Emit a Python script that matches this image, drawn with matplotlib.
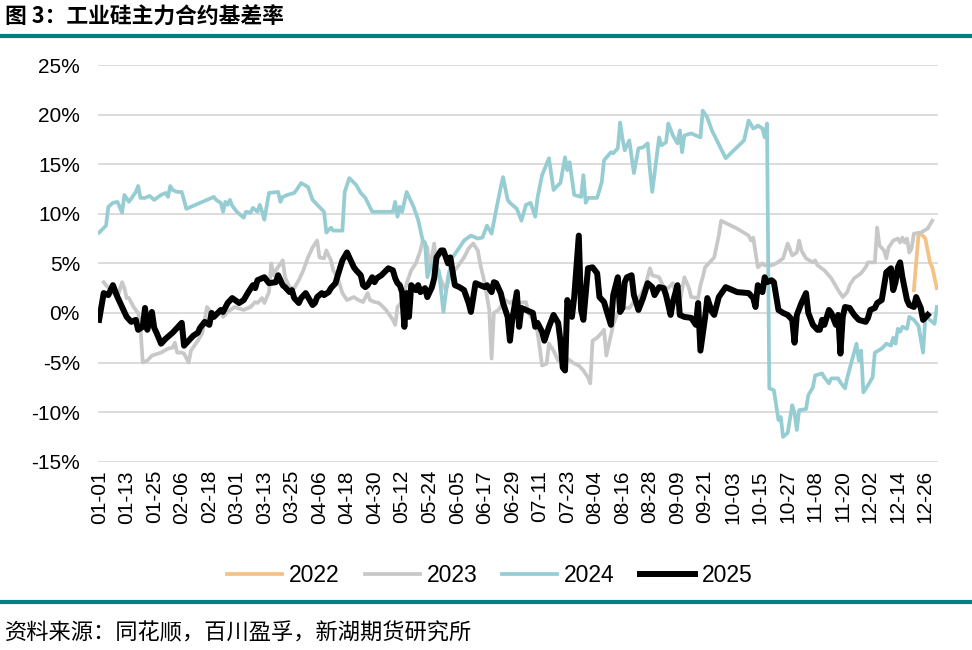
import numpy as np
import pandas as pd
import matplotlib

matplotlib.use("Agg")
import matplotlib.pyplot as plt
from matplotlib.lines import Line2D

plt.rcParams["font.family"] = ["Liberation Sans", "Noto Sans CJK SC", "DejaVu Sans"]

# category axis: month-day of a leap year
categories = list(pd.date_range("2024-01-01", "2024-12-31").strftime("%m-%d"))

# basis rate (%), x = day index on the category axis
days_2022 = [355, 357, 358, 360, 362, 363, 365]
basis_2022 = [2.3, 7.8, 8.0, 7.5, 5.1, 4.6, 2.5]

days_2023 = [2, 3, 5, 8, 10, 11, 12, 13, 15, 17, 18, 19, 21, 23, 27, 30, 32, 33, 34, 36,
             37, 39, 40, 43, 45, 46, 47, 48, 50, 53, 54, 56, 59, 63, 66, 68, 69, 71, 72, 74,
             75, 76, 77, 80, 81, 83, 85, 87, 89, 91, 93, 95, 96, 98, 99, 101, 102, 104, 106, 108,
             111, 113, 115, 117, 118, 120, 122, 125, 128, 129, 130, 132, 134, 136, 138, 140, 141, 143, 144, 146,
             147, 149, 151, 153, 156, 159, 161, 163, 165, 166, 168, 170, 171, 172, 174, 177, 179, 181, 183, 186,
             187, 190, 191, 193, 195, 196, 198, 200, 202, 204, 207, 209, 211, 213, 214, 215, 217, 219, 220, 221,
             224, 226, 228, 231, 233, 236, 238, 240, 241, 244, 246, 248, 250, 251, 253, 255, 257, 258, 261, 262,
             263, 264, 266, 268, 270, 271, 278, 283, 284, 285, 287, 289, 290, 293, 295, 298, 300, 302, 304, 305,
             306, 308, 311, 312, 313, 316, 319, 322, 324, 326, 327, 329, 332, 334, 335, 338, 339, 340, 342, 343,
             344, 346, 348, 349, 350, 351, 352, 353, 354, 355, 358, 361, 363]
basis_2023 = [3.1, 2.8, 2.3, 1.6, 3.1, 2.5, 1.5, 1.5, 0.6, 0.0, -1.4, -5.0, -4.8, -4.3, -4.0, -3.6, -3.5, -3.0, -4.0, -4.0,
              -4.1, -5.0, -3.8, -2.8, -2.0, -0.7, 0.6, 0.3, -0.4, 0.1, -0.4, 0.1, 0.6, 0.3, 0.6, 1.1, 1.0, 1.5, 1.0, 2.1,
              5.0, 3.8, 4.3, 5.3, 3.6, 2.6, 2.5, 3.3, 4.3, 5.6, 6.6, 7.3, 5.6, 5.5, 6.3, 5.3, 4.3, 3.5, 2.0, 1.3,
              1.6, 1.3, 1.1, 2.0, 1.3, 1.1, 1.0, 0.3, -0.7, -1.2, 0.6, 1.1, 3.0, 4.3, 5.0, 6.3, 7.3, 6.6, 4.3, 7.0,
              4.6, 3.3, 2.3, 3.8, 4.6, 5.6, 6.5, 7.0, 6.3, 5.0, 3.0, 0.3, -4.6, 0.0, 0.3, 1.3, 1.0, 1.3, 1.0, 1.1,
              0.0, -1.0, -1.9, -5.3, -5.1, -3.1, -3.8, -4.8, -4.5, -4.6, -5.1, -5.3, -5.8, -6.5, -7.1, -2.8, -2.5, -2.0, -1.7, -4.3,
              -1.2, 0.1, 0.5, 0.5, 1.1, 1.8, 2.8, 4.5, 3.8, 3.6, 2.6, 2.5, 3.0, 2.1, 1.1, 3.6, 2.5, 1.6, 1.5, 2.8,
              3.6, 4.6, 5.1, 5.6, 7.8, 9.3, 8.5, 7.8, 7.3, 7.6, 4.6, 5.0, 4.8, 4.8, 5.0, 5.5, 7.0, 5.8, 6.1, 7.3,
              6.3, 5.5, 5.1, 5.3, 4.8, 4.3, 3.5, 2.3, 1.6, 2.1, 2.8, 3.5, 4.0, 4.6, 5.1, 5.1, 8.6, 6.8, 6.3, 5.5,
              6.6, 7.3, 7.5, 7.1, 7.6, 7.1, 7.5, 6.1, 6.5, 8.0, 8.1, 8.5, 9.3]

days_2024 = [0, 3, 4, 6, 8, 10, 11, 13, 16, 17, 18, 20, 22, 24, 27, 29, 30, 31, 32, 34,
             36, 38, 50, 51, 53, 54, 55, 56, 57, 58, 60, 63, 64, 66, 67, 69, 70, 71, 72, 74,
             78, 79, 80, 82, 85, 86, 88, 91, 93, 98, 99, 101, 102, 106, 107, 109, 112, 114, 116, 119,
             128, 129, 130, 131, 132, 134, 135, 137, 139, 141, 142, 143, 145, 148, 150, 152, 154, 157, 159, 162,
             165, 167, 169, 171, 173, 175, 176, 178, 179, 182, 184, 186, 188, 190, 191, 193, 196, 198, 200, 201,
             203, 204, 205, 207, 210, 211, 212, 213, 217, 219, 220, 223, 224, 226, 227, 228, 229, 231, 233, 235,
             237, 239, 240, 241, 244, 245, 247, 248, 250, 252, 253, 254, 255, 258, 262, 263, 265, 267, 273, 281,
             283, 285, 286, 287, 289, 290, 291, 292, 294, 295, 296, 297, 298, 300, 302, 303, 304, 305, 308, 309,
             311, 312, 315, 316, 318, 319, 322, 323, 325, 326, 328, 330, 331, 332, 333, 335, 337, 338, 341, 343,
             345, 346, 347, 348, 349, 350, 352, 353, 355, 357, 359, 360, 362, 364, 365]
basis_2024 = [8.1, 8.8, 10.7, 11.1, 11.2, 10.1, 11.9, 11.2, 12.2, 12.8, 11.6, 11.6, 11.8, 11.4, 11.9, 12.1, 11.7, 12.8, 12.4, 12.2,
              12.2, 10.5, 11.7, 11.4, 11.1, 10.2, 11.2, 10.9, 11.4, 10.8, 10.2, 9.6, 10.2, 10.1, 10.6, 10.2, 10.9, 10.2, 9.4, 12.1,
              12.2, 11.2, 11.7, 11.9, 12.1, 12.4, 13.1, 12.7, 11.4, 10.2, 8.1, 8.6, 8.3, 8.3, 12.2, 13.6, 12.9, 12.1, 11.6, 10.2,
              10.2, 11.2, 9.7, 10.7, 10.2, 12.2, 11.7, 10.7, 9.4, 7.3, 7.1, 3.6, 5.0, 4.3, 0.1, 3.6, 5.6, 6.6, 7.3, 7.8,
              7.5, 7.6, 8.8, 8.0, 10.4, 12.7, 13.7, 11.4, 11.1, 10.5, 9.3, 10.9, 11.1, 9.7, 11.6, 13.9, 15.6, 12.4, 12.9, 13.1,
              15.7, 14.4, 15.2, 11.9, 11.7, 13.9, 11.1, 11.6, 11.6, 13.2, 15.4, 16.2, 16.1, 16.6, 19.2, 17.6, 16.4, 17.4, 14.1, 16.6,
              16.7, 17.1, 14.4, 12.2, 17.7, 16.9, 17.2, 19.1, 17.9, 17.1, 18.4, 16.2, 17.9, 18.1, 17.7, 20.4, 19.7, 18.4, 15.6, 17.4,
              19.4, 18.6, 18.7, 18.9, 18.6, 17.7, 19.1, -7.6, -7.8, -9.3, -10.8, -10.5, -12.5, -12.1, -9.3, -10.1, -11.8, -9.8, -9.7, -8.3,
              -7.5, -6.3, -6.1, -6.5, -7.1, -6.6, -6.6, -7.0, -7.6, -6.5, -4.8, -3.1, -4.8, -3.8, -8.0, -7.3, -6.5, -4.0, -3.6, -3.1,
              -3.3, -2.5, -3.1, -1.6, -1.9, -1.4, -1.6, -0.4, -0.7, -1.3, -4.0, -0.4, -0.7, -1.1, 0.6]

days_2025 = [0, 2, 4, 6, 8, 10, 12, 14, 16, 17, 19, 20, 21, 23, 24, 25, 27, 29, 32, 34,
             36, 37, 39, 41, 43, 44, 46, 48, 49, 50, 53, 54, 56, 58, 61, 63, 65, 67, 68, 69,
             71, 72, 74, 77, 78, 80, 81, 83, 84, 85, 87, 88, 90, 91, 93, 94, 95, 97, 98, 100,
             101, 103, 104, 106, 108, 110, 111, 112, 114, 115, 116, 117, 119, 120, 121, 123, 126, 128, 129, 130,
             131, 132, 133, 134, 135, 136, 138, 139, 140, 142, 143, 145, 146, 147, 149, 150, 152, 153, 155, 157,
             159, 161, 162, 164, 166, 168, 169, 171, 172, 173, 175, 176, 178, 179, 180, 182, 183, 184, 186, 189,
             190, 191, 193, 194, 196, 198, 200, 201, 202, 203, 204, 206, 207, 209, 210, 211, 213, 215, 217, 218,
             220, 221, 223, 224, 226, 227, 228, 229, 230, 232, 233, 235, 237, 239, 241, 242, 244, 246, 247, 249,
             250, 252, 253, 255, 258, 260, 261, 262, 264, 265, 267, 268, 270, 273, 278, 283, 285, 286, 287, 289,
             290, 291, 293, 294, 296, 298, 300, 302, 303, 304, 306, 308, 309, 311, 313, 314, 315, 316, 318, 319,
             321, 322, 323, 324, 325, 327, 329, 331, 334, 335, 336, 338, 339, 341, 343, 345, 346, 347, 348, 349,
             350, 352, 353, 355, 356, 358, 359, 361]
basis_2025 = [-0.7, 2.0, 1.8, 2.8, 1.6, 0.6, -0.4, -0.9, -0.7, -1.7, -1.4, 0.5, -1.7, 0.1, -1.5, -2.0, -3.1, -2.6, -2.0, -1.5,
              -1.0, -3.3, -2.8, -2.3, -2.0, -1.5, -0.9, -1.2, 0.0, -0.4, 0.3, 0.1, 1.0, 1.5, 1.0, 1.3, 2.1, 2.8, 2.5, 3.3,
              3.5, 3.6, 3.0, 3.1, 3.8, 2.8, 2.6, 2.1, 2.3, 1.5, 1.0, 1.5, 2.0, 1.6, 0.8, 1.0, 1.6, 2.0, 1.8, 2.1,
              2.5, 3.0, 3.8, 5.3, 6.1, 5.1, 4.6, 4.3, 3.8, 2.8, 2.6, 2.8, 3.6, 3.1, 3.5, 3.8, 4.5, 4.3, 3.5, 3.0,
              2.8, 2.1, -1.4, 2.0, -0.4, 2.8, 2.3, 2.8, 2.1, 2.5, 1.6, 2.6, 3.5, 5.6, 6.3, 6.3, 5.0, 5.6, 2.8, 2.6,
              2.3, 1.0, 0.1, 3.0, 2.8, 2.6, 2.8, 2.1, 3.1, 3.0, 2.0, 1.0, -0.4, -2.8, -0.7, 2.1, -1.4, 0.5, 0.3, 0.0,
              -1.4, -1.0, -1.9, -2.8, -1.4, -0.2, -1.0, -2.8, -5.5, -5.8, 1.3, -0.4, 1.6, 7.8, 0.3, -0.7, 4.5, 4.6, 4.0, 1.6,
              1.1, 0.3, -1.2, 1.8, 3.6, 0.1, 0.5, 3.1, 3.6, 3.8, 1.8, 0.3, 1.5, 3.0, 2.6, 1.8, 2.6, 2.5, 1.8, -0.2,
              1.1, 2.8, -0.2, -0.4, -0.5, -1.2, 1.0, -3.8, -0.5, 1.5, 0.1, -0.2, 1.6, 2.6, 2.1, 2.0, 1.5, 0.6, 2.8, 2.1,
              3.6, 3.1, 3.3, 3.1, 0.3, 0.0, -0.2, -0.7, -3.0, -0.2, 1.0, 2.0, 0.0, -1.2, -1.7, -1.7, -0.7, -1.2, 0.3, 0.0,
              -1.2, -0.2, -4.1, -0.4, 0.6, 0.5, -0.2, -0.7, -0.9, -0.5, 0.3, 0.5, 1.0, 1.3, 4.1, 4.5, 2.3, 3.1, 4.6, 5.1,
              3.6, 1.3, 0.8, 0.6, 1.6, 0.5, -0.7, -0.2]

yticks = [-15, -10, -5, 0, 5, 10, 15, 20, 25]
tick_step = 12

c2022, c2023, c2024, c2025 = "#F4C285", "#C8C8C8", "#96CDD3", "#000000"
teal_bar = "#008080"

fig = plt.figure(figsize=(9.72, 6.5), dpi=100)
ax = fig.add_axes([0.1008, 0.2897, 0.8642, 0.6103])

ax.plot(days_2022, basis_2022, color=c2022, lw=2.7, label="2022", solid_joinstyle="round")
ax.plot(days_2023, basis_2023, color=c2023, lw=2.7, label="2023", solid_joinstyle="round")
ax.plot(days_2024, basis_2024, color=c2024, lw=2.7, label="2024", solid_joinstyle="round")
ax.plot(days_2025, basis_2025, color=c2025, lw=4.3, label="2025", solid_joinstyle="round")

ax.set_xlim(-0.5, len(categories) - 0.5)
ax.set_ylim(-15, 25)
ax.set_yticks(yticks)
ax.set_yticklabels([f"{v}%" for v in yticks])
tick_pos = list(range(0, len(categories), tick_step))
ax.set_xticks(tick_pos)
ax.set_xticklabels([categories[i] for i in tick_pos], rotation=90)
ax.tick_params(axis="both", length=0, labelsize=15, colors="#000000")
ax.tick_params(axis="y", pad=13)
ax.tick_params(axis="x", pad=6)
ax.grid(axis="y", color="#D9D9D9", lw=1.3)
ax.set_axisbelow(True)
for s in ax.spines.values():
    s.set_visible(False)

fig.legend(loc="center", bbox_to_anchor=(0.504, 0.114), ncol=4, frameon=False,
           fontsize=16.5, handlelength=2.4, columnspacing=1.1, handletextpad=0.3)

# header / footer
fig.text(0.005, 0.973, "图 3：工业硅主力合约基差率", fontsize=15.7, fontweight="heavy",
         family=["Noto Sans CJK SC", "DejaVu Sans"], va="center", ha="left")
fig.add_artist(Line2D([0, 1], [0.945, 0.945], color=teal_bar, lw=3, transform=fig.transFigure))
fig.add_artist(Line2D([0, 1], [0.074, 0.074], color=teal_bar, lw=3, transform=fig.transFigure))
fig.text(0.005, 0.027, "资料来源：同花顺，百川盈孚，新湖期货研究所", fontsize=16,
         family=["Noto Sans CJK SC", "DejaVu Sans"], va="center", ha="left")

fig.savefig("out.png", dpi=100)
